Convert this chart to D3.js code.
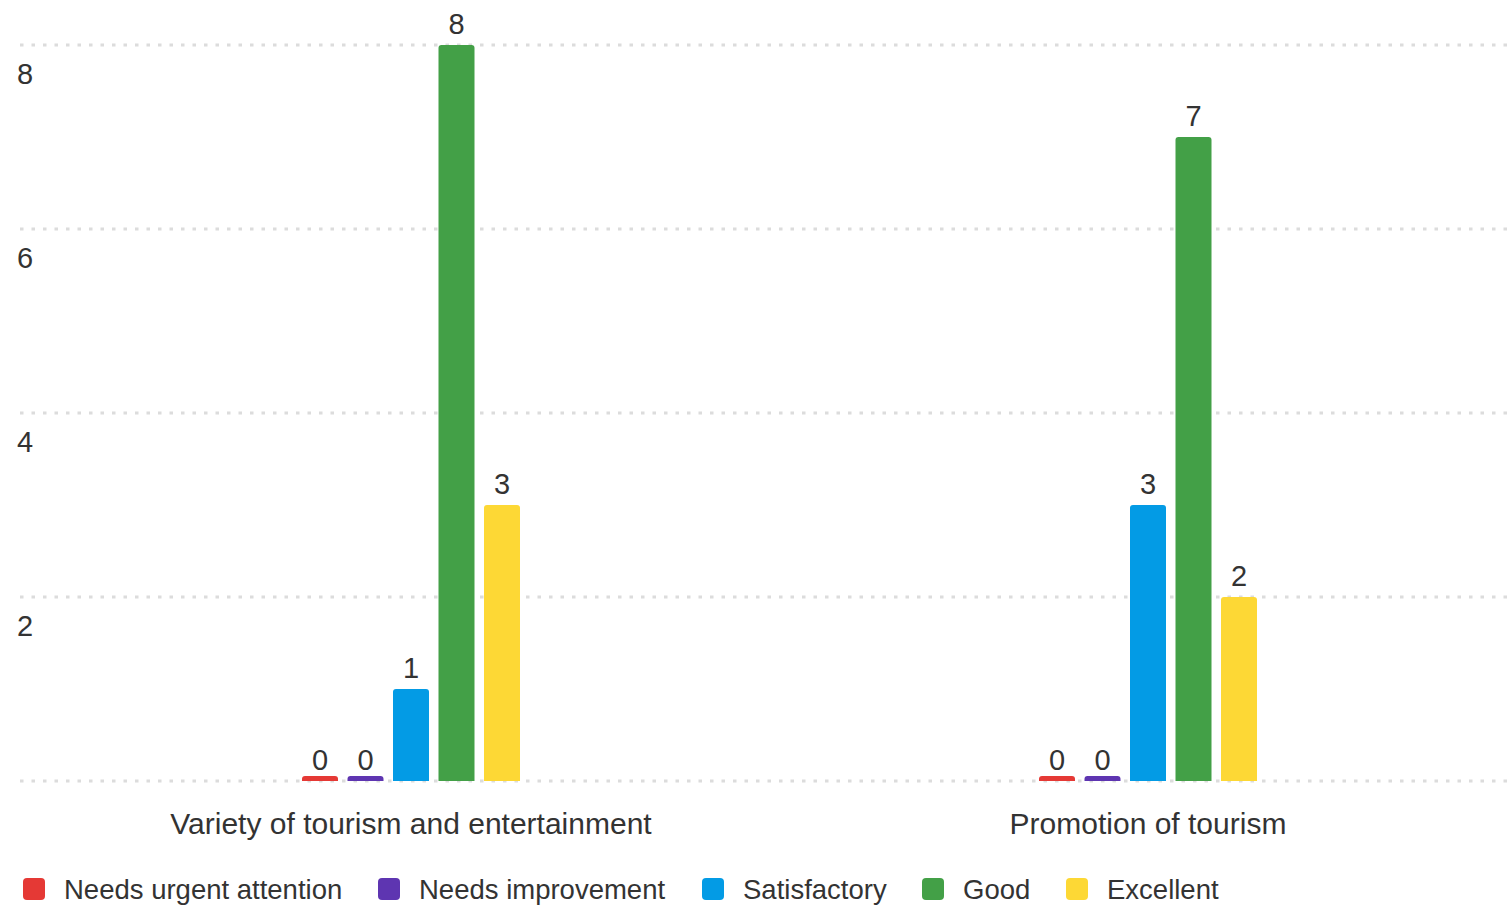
<!DOCTYPE html>
<html lang="en">
<head>
<meta charset="UTF-8">
<title>grouped bars</title>
<script src="https://cdn.jsdelivr.net/npm/d3@7"></script>
<style>
	body { margin: 0; background: #fff; }
	text { font-family: "Liberation Sans", Arial, sans-serif; fill: #333; }
</style>
</head>
<body>
<script>
var categories = ['Variety of tourism and entertainment', 'Promotion of tourism'];
var seriesNames = ['Needs urgent attention', 'Needs improvement', 'Satisfactory', 'Good', 'Excellent'];
var seriesColors = ['#e53935', '#5e35b1', '#039be5', '#43a047', '#fdd835'];
var seriesValues = [
	[0, 0],  // Needs urgent attention
	[0, 0],  // Needs improvement
	[1, 3],  // Satisfactory
	[8, 7],  // Good
	[3, 2]   // Excellent
];
var yTicks = [2, 4, 6, 8];

var width = 1509,
	height = 908;

var svg = d3.select('body').append('svg')
	.attr('width', width)
	.attr('height', height);

var x0 = d3.scaleBand()
	.domain(categories)
	.range([42.5, 1516.5]);

var x1 = d3.scaleBand()
	.domain(seriesNames)
	.range([0, 4 * 45.5 + 36])
	.paddingInner(9.5 / 45.5);

var y = d3.scaleLinear()
	.domain([0, 8])
	.range([781, 45]);

// grid lines
svg.append('g').selectAll('line')
	.data([0].concat(yTicks))
	.enter().append('line')
	.attr('x1', 20)
	.attr('x2', width)
	.attr('y1', d => y(d))
	.attr('y2', d => y(d))
	.attr('stroke', '#dcdcdc')
	.attr('stroke-width', 3)
	.attr('stroke-dasharray', '3.5,8');

// y labels, drawn under each grid line
svg.append('g').selectAll('text')
	.data(yTicks)
	.enter().append('text')
	.attr('x', 17)
	.attr('y', d => y(d) + 39)
	.attr('font-size', 29)
	.text(d => d);

var rows = [];
seriesNames.forEach(function (s, i) {
	categories.forEach(function (c, j) {
		rows.push({ cat: c, series: s, value: seriesValues[i][j], color: seriesColors[i] });
	});
});

var groupOffset = (x0.bandwidth() - x1.range()[1]) / 2;

function barPath(d) {
	var bx = x0(d.cat) + groupOffset + x1(d.series);
	var bw = x1.bandwidth();
	var top = Math.min(y(d.value), y(0) - 5);
	var r = 3;
	var b = y(0);
	return 'M' + bx + ',' + b +
		'V' + (top + r) +
		'Q' + bx + ',' + top + ' ' + (bx + r) + ',' + top +
		'H' + (bx + bw - r) +
		'Q' + (bx + bw) + ',' + top + ' ' + (bx + bw) + ',' + (top + r) +
		'V' + b + 'Z';
}

svg.append('g').selectAll('path')
	.data(rows)
	.enter().append('path')
	.attr('d', barPath)
	.attr('fill', d => d.color);

svg.append('g').selectAll('text')
	.data(rows)
	.enter().append('text')
	.attr('x', d => x0(d.cat) + groupOffset + x1(d.series) + x1.bandwidth() / 2)
	.attr('y', d => y(d.value) - 11)
	.attr('text-anchor', 'middle')
	.attr('font-size', 29)
	.text(d => d.value);

// category labels
svg.append('g').selectAll('text')
	.data(categories)
	.enter().append('text')
	.attr('x', d => x0(d) + x0.bandwidth() / 2)
	.attr('y', 834)
	.attr('text-anchor', 'middle')
	.attr('font-size', 30)
	.text(d => d);

// legend
var legendX = [23, 378, 702, 922, 1066];
var legend = svg.append('g').selectAll('g')
	.data(seriesNames)
	.enter().append('g')
	.attr('transform', (d, i) => `translate(${legendX[i]},878)`);

legend.append('rect')
	.attr('width', 22)
	.attr('height', 22)
	.attr('rx', 4)
	.attr('fill', (d, i) => seriesColors[i]);

legend.append('text')
	.attr('x', 41)
	.attr('y', 21)
	.attr('font-size', 27.5)
	.text(d => d);
</script>
</body>
</html>
